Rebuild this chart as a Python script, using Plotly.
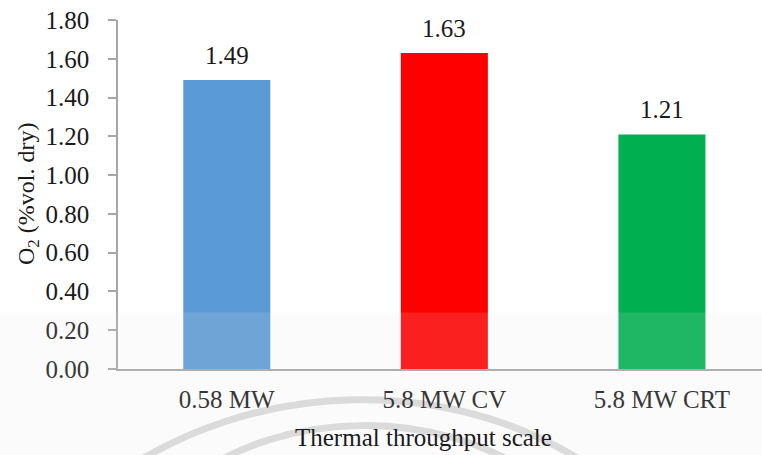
import plotly.graph_objects as go

# Data
categories = ["0.58 MW", "5.8 MW CV", "5.8 MW CRT"]
o2_values = [1.49, 1.63, 1.21]
bar_colors = ["#5B9BD5", "#FF0000", "#00B050"]
y_tick_values = [0.0, 0.2, 0.4, 0.6, 0.8, 1.0, 1.2, 1.4, 1.6, 1.8]

W, H = 762, 455
ML, MR, MT, MB = 118, 0, 20, 86
FONT = "Liberation Serif"
FS = 25
TXT = "#1a1a1a"


def px_x(px):
    return (px - ML) / (W - ML - MR)


def px_y(py):
    return (H - MB - py) / (H - MT - MB)


fig = go.Figure()
fig.add_trace(go.Bar(
    x=categories,
    y=o2_values,
    marker=dict(color=bar_colors, line=dict(width=0)),
    width=0.4,
    showlegend=False,
    hoverinfo="x+y",
))

# value labels above each bar
for c, v in zip(categories, o2_values):
    fig.add_annotation(x=c, y=v, text=f"{v:.2f}", showarrow=False,
                       yanchor="bottom", yshift=9,
                       font=dict(family=FONT, size=FS, color=TXT))

# axis titles
fig.add_annotation(xref="paper", yref="paper", x=px_x(423), y=px_y(437),
                   xanchor="center", yanchor="middle",
                   text="Thermal throughput scale", showarrow=False,
                   font=dict(family=FONT, size=FS, color=TXT))
fig.add_annotation(xref="paper", yref="paper", x=px_x(28), y=px_y(194),
                   xanchor="center", yanchor="middle",
                   text="O<sub>2</sub> (%vol. dry)", showarrow=False, textangle=-90,
                   font=dict(family=FONT, size=24, color=TXT))


def path(points):
    (x0, y0), (x1, y1), (x2, y2), (x3, y3) = points
    return (f"M {px_x(x0)} {px_y(y0)} C {px_x(x1)} {px_y(y1)}, "
            f"{px_x(x2)} {px_y(y2)}, {px_x(x3)} {px_y(y3)}")


# faint background arcs
fig.add_shape(type="path", xref="paper", yref="paper", layer="below",
              path=path([(110, 480), (250, 378), (460, 368), (610, 480)]),
              line=dict(color="#DADADA", width=7))
fig.add_shape(type="path", xref="paper", yref="paper", layer="below",
              path=path([(190, 480), (280, 410), (440, 405), (540, 480)]),
              line=dict(color="#DADADA", width=7))

# light band across the lower part
fig.add_shape(type="rect", xref="paper", yref="paper", layer="above",
              x0=px_x(0), x1=px_x(W), y0=px_y(H + 5), y1=px_y(312.5),
              fillcolor="rgba(230,230,230,0.14)", line=dict(width=0))

fig.update_layout(
    width=W, height=H,
    margin=dict(l=ML, r=MR, t=MT, b=MB),
    paper_bgcolor="white",
    plot_bgcolor="rgba(0,0,0,0)",
    font=dict(family=FONT, size=FS, color=TXT),
    bargap=0.6,
)
fig.update_xaxes(
    range=[-0.5, 2.46],
    showline=True, linecolor="#A6A6A6", linewidth=1.5,
    ticks="", showgrid=False, zeroline=False,
    ticklabelstandoff=7,
    tickfont=dict(family=FONT, size=FS, color=TXT),
)
fig.update_yaxes(
    range=[0, 1.8],
    tickvals=y_tick_values,
    ticktext=[f"{v:.2f}" for v in y_tick_values],
    showline=True, linecolor="#A6A6A6", linewidth=1.5,
    ticks="outside", ticklen=8, tickcolor="#A6A6A6", tickwidth=1.5,
    showgrid=False, zeroline=False,
    ticklabelstandoff=14,
    tickfont=dict(family=FONT, size=FS, color=TXT),
)

fig.write_html("out.html")
